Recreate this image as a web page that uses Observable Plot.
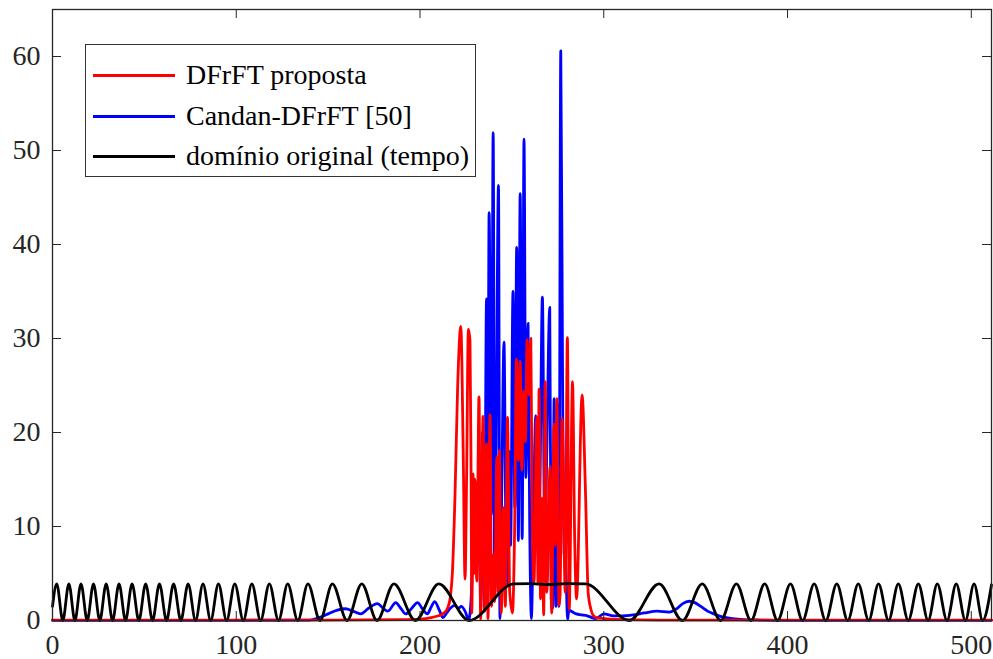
<!DOCTYPE html>
<html><head><meta charset="utf-8">
<script src="https://cdn.jsdelivr.net/npm/d3@7"></script>
<script src="https://cdn.jsdelivr.net/npm/@observablehq/plot@0.6"></script>
<style>
body{margin:0;background:#fff;}
#wrap{position:relative;width:993px;height:659px;}
#wrap svg text{font-family:"Liberation Serif","Times New Roman",serif !important;}
#legend{position:absolute;left:85px;top:44px;width:389px;height:131px;border:1.3px solid #333;background:#fff;font-family:"Liberation Serif","Times New Roman",serif;font-size:28px;color:#000;}
.row{position:absolute;left:0;height:40px;display:flex;align-items:center;white-space:nowrap;}
.sw{width:82px;height:3px;margin-left:7px;margin-right:11px;}
</style></head><body><div id="wrap"></div>
<script>
const xTicks=[0,100,200,300,400,500];
const yTicks=[0,10,20,30,40,50,60];
const seriesNames=["DFrFT proposta","Candan-DFrFT [50]","domínio original (tempo)"];
const seriesColors=["#ff0000","#0000ff","#000000"];

// DFrFT proposta (red)
const redPts=[[0,0.03],[150,0.05],[190,0.1],[200,0.15],[206,0.3],[210,0.5],[213,0.8],[215,1.3],[216.5,2.5],[217.6,5],[219,13],[220.5,25],[222.2,31.3],[223.5,18],[224.5,4.4],[225.4,16],[226.3,31.0],[227.2,29.8],[227.8,15],[228.2,0.8],[228.9,15.6],[229.4,5],[229.9,15],[230.9,4.2],[232.1,23.8],[233,0.2],[234.3,21.7],[235.2,1],[236.2,18.8],[237,0.2],[238.1,21.9],[239,1.5],[240,7],[240.6,2],[241.8,17.4],[242.5,3],[243.2,18.1],[244.2,0.8],[245.4,12],[246.4,1.5],[247.6,21.6],[248.8,3.1],[250.3,0.8],[251.5,10],[252.5,27.8],[253.6,17],[254.5,27.6],[255.4,16],[256.4,24.4],[257.3,19],[258.3,29.9],[259.3,24],[260.3,30.0],[261.2,8],[262,3.9],[263.5,21.6],[264.2,4],[264.8,24.6],[265.6,2.3],[266.5,13],[267.3,0.6],[268.1,25.4],[269,3],[270.8,16.4],[271.6,0.8],[273,20.9],[273.6,8],[274.5,23.6],[275.6,1.6],[276.2,2.6],[277.3,21.5],[278.4,8.3],[279.0,3],[280.2,30.1],[281.2,1.2],[283,25.4],[284.2,8.3],[285.2,2.3],[288.2,24.0],[290,14],[291.5,3],[293,1.2],[294,0.6],[296,0.3],[300,0.2],[310,0.1],[330,0.05],[511,0.03]];

// Candan-DFrFT [50] (blue)
const bluePts=[[0,0.02],[100,0.02],[140,0.05],[145,0.3],[150,0.7],[155,1.1],[159.5,1.25],[163.5,1.0],[167.7,0.7],[172,1.3],[176.8,1.8],[180.5,1.2],[182.5,1.0],[186.8,1.9],[189.5,1.3],[192.2,0.7],[195.5,1.3],[198.6,1.9],[201.5,1.2],[204,0.7],[206,1.4],[208,2.0],[210.5,1.1],[212.5,0.3],[214.5,0.8],[216.5,1.3],[219,1.6],[221,1.3],[222.5,1.5],[224.5,1.0],[226.5,0.1],[228,3],[229,9],[230,12.5],[231,6],[232,14],[233,2],[234,20],[235,1.3],[236.2,34.2],[236.9,12],[237.6,43.4],[238.9,11.3],[239.8,51.9],[240.7,2.3],[241.5,20],[242.7,46.3],[243.5,0.2],[244.5,14],[245.7,29.6],[246.7,10],[247.6,3.9],[248.5,18],[249.3,8],[250.6,35.0],[251.6,12],[252.6,39.7],[253.5,8.5],[254.5,45.4],[255.6,8.7],[256.6,51.2],[257.6,15.2],[258.8,31.6],[259.7,10],[260.6,0.2],[261.8,12],[263,21.8],[264.3,7],[265.3,15],[266.6,34.4],[267.9,7.6],[269,18],[270.6,33.3],[271.4,2.3],[272.1,1.3],[273,23.6],[273.9,1.5],[274.8,23.0],[275.6,1.5],[276.6,60.6],[277.6,25],[278.4,7.2],[279.3,6],[280.3,0.1],[281,1.1],[283,0.9],[285,0.7],[288,0.6],[291,0.5],[295.7,0.2],[300,0.7],[305.5,0.5],[310,0.5],[316,0.6],[322,0.8],[329,1.0],[335.6,0.9],[340,1.3],[343,1.8],[346.5,2.05],[349.5,1.9],[352.8,1.5],[356.5,1.0],[360,0.7],[365,0.35],[370,0.2],[376,0.1],[385,0.05],[400,0.02],[511,0.02]];

// domínio original (tempo) (black): read peaks and troughs
const blackPts=[[0,1.5],[2.3,3.9],[5.6,0],[8.9,3.9],[12.2,0],[15.5,3.9],[18.9,0],[22.3,3.9],[25.75,0],[29.2,3.9],[32.7,0],[36.2,3.9],[39.75,0],[43.3,3.9],[47.0,0],[50.7,3.9],[54.45,0],[58.2,3.9],[62.05,0],[65.9,3.9],[69.85,0],[73.8,3.9],[77.85,0],[81.9,3.9],[86.1,0],[90.3,3.9],[94.75,0],[99.2,3.9],[103.85,0],[108.5,3.9],[113.25,0],[118,3.9],[123,0],[128,3.9],[133.5,0],[139,3.9],[145.6,0],[152.3,3.9],[160.3,0],[168.3,3.9],[176.6,0],[185.8,3.9],[197.5,0],[210.2,3.9],[226.7,0],[251,3.9],[260,3.92],[269.4,3.83],[280,3.92],[290,3.9],[314,0],[330.1,3.9],[342.8,0],[353.6,3.9],[363.6,0],[372.2,3.9],[380.1,0],[387.6,3.9],[394.6,0],[401.6,3.9],[408.2,0],[414.5,3.9],[420.8,0],[426.8,3.9],[432.8,0],[438.5,3.9],[444.2,0],[449.5,3.9],[455,0],[460.3,3.9],[465.7,0],[471.2,3.9],[476.5,0],[481.5,3.9],[486.8,0],[491.8,3.9],[496.8,0],[501.5,3.9],[506.2,0],[511,3.8]];

const W=993,H=659,mL=52,mR=2,mT=9,mB=39;
const pw=W-mL-mR, ph=H-mT-mB, tickLen=9, axisColor="#262626";
const serif="Liberation Serif";
const lineOpts=(c)=>({x:d=>d[0],y:d=>d[1],stroke:c,strokeWidth:2.8,curve:"monotone-x"});

const chart=Plot.plot({
  width:W,height:H,marginLeft:mL,marginRight:mR,marginTop:mT,marginBottom:mB,
  x:{domain:[0,511]},y:{domain:[0,65]},
  style:{fontFamily:serif,fontSize:"28px",color:axisColor,background:"#fff",overflow:"visible"},
  marks:[
    Plot.line(bluePts,lineOpts(seriesColors[1])),
    Plot.line(redPts,lineOpts(seriesColors[0])),
    Plot.line(blackPts,lineOpts(seriesColors[2])),
    Plot.tickX(xTicks,{x:d=>d,insetTop:ph-tickLen,stroke:axisColor}),
    Plot.tickX(xTicks,{x:d=>d,insetBottom:ph-tickLen,stroke:axisColor}),
    Plot.tickY(yTicks,{y:d=>d,insetRight:pw-tickLen,stroke:axisColor}),
    Plot.tickY(yTicks,{y:d=>d,insetLeft:pw-tickLen,stroke:axisColor}),
    Plot.axisX({ticks:xTicks,tickSize:0,tickPadding:14,label:null,fontSize:28,fontFamily:serif}),
    Plot.axisY({ticks:yTicks,tickSize:0,tickPadding:12,label:null,fontSize:28,fontFamily:serif}),
    Plot.frame({stroke:axisColor,strokeWidth:1.3})
  ]
});
const wrap=document.getElementById("wrap");
wrap.appendChild(chart);

const leg=document.createElement("div");
leg.id="legend";
const rowCenters=[30,71,111];
seriesNames.forEach((n,i)=>{
  const r=document.createElement("div");
  r.className="row";
  r.style.top=(rowCenters[i]-20)+"px";
  const s=document.createElement("div");
  s.className="sw"; s.style.background=seriesColors[i];
  const t=document.createElement("span");
  t.textContent=n;
  r.appendChild(s); r.appendChild(t);
  leg.appendChild(r);
});
wrap.appendChild(leg);
</script>
</body></html>
